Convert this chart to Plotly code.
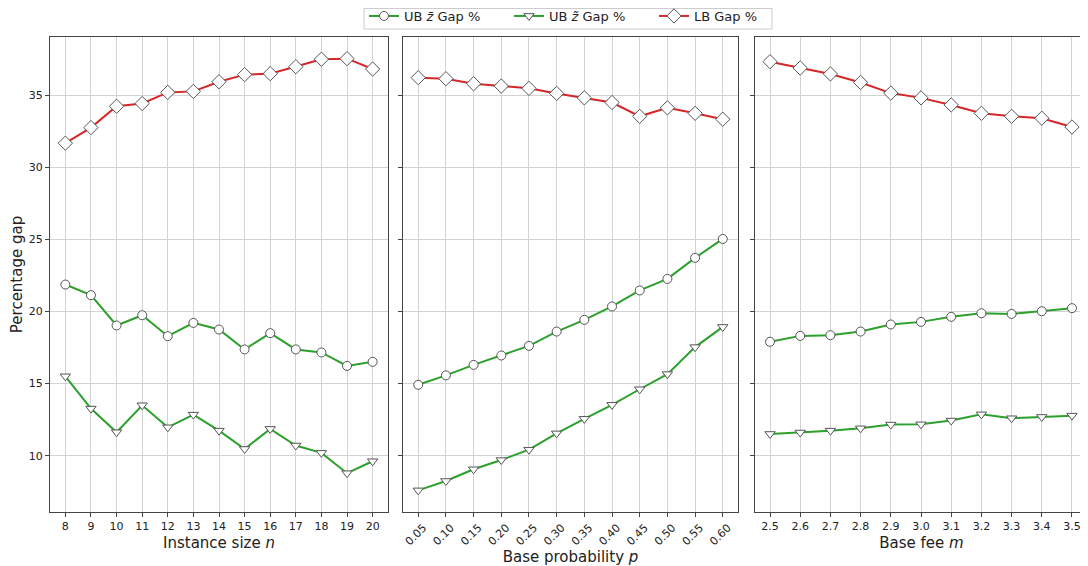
import plotly.graph_objects as go

# ---- data ----
n_vals = [8, 9, 10, 11, 12, 13, 14, 15, 16, 17, 18, 19, 20]
n_ub_bar = [21.87, 21.13, 19.03, 19.74, 18.29, 19.21, 18.75, 17.37, 18.50, 17.37, 17.16, 16.23, 16.51]
n_ub_tilde = [15.51, 13.27, 11.63, 13.50, 11.97, 12.85, 11.74, 10.47, 11.86, 10.71, 10.20, 8.79, 9.62]
n_lb = [31.67, 32.75, 34.23, 34.42, 35.19, 35.26, 35.93, 36.42, 36.49, 36.97, 37.49, 37.53, 36.81]

p_vals = [0.05, 0.10, 0.15, 0.20, 0.25, 0.30, 0.35, 0.40, 0.45, 0.50, 0.55, 0.60]
p_ub_bar = [14.92, 15.57, 16.30, 16.95, 17.62, 18.61, 19.42, 20.35, 21.46, 22.26, 23.72, 25.03]
p_ub_tilde = [7.60, 8.25, 9.06, 9.70, 10.42, 11.55, 12.56, 13.53, 14.61, 15.66, 17.53, 18.93]
p_lb = [36.21, 36.14, 35.79, 35.63, 35.47, 35.12, 34.81, 34.49, 33.53, 34.12, 33.74, 33.33]

m_vals = [2.5, 2.6, 2.7, 2.8, 2.9, 3.0, 3.1, 3.2, 3.3, 3.4, 3.5]
m_ub_bar = [17.90, 18.31, 18.36, 18.61, 19.10, 19.28, 19.63, 19.88, 19.83, 20.02, 20.23]
m_ub_tilde = [11.51, 11.61, 11.74, 11.90, 12.16, 12.18, 12.44, 12.87, 12.60, 12.69, 12.78]
m_lb = [37.32, 36.88, 36.47, 35.88, 35.14, 34.81, 34.32, 33.74, 33.53, 33.40, 32.79]

y_ticks = [10, 15, 20, 25, 30, 35]
series_names = ["UB <i>z̄</i> Gap %", "UB <i>z̃</i> Gap %", "LB Gap %"]
x_titles = ["Instance size <i>n</i>", "Base probability <i>p</i>", "Base fee <i>m</i>"]

GREEN = "#2ca02c"
RED = "#d62728"
EDGE = "#555555"
FONT = "DejaVu Sans"

panels = [
    (n_vals, n_ub_bar, n_ub_tilde, n_lb),
    (p_vals, p_ub_bar, p_ub_tilde, p_lb),
    (m_vals, m_ub_bar, m_ub_tilde, m_lb),
]

fig = go.Figure()
styles = [
    (GREEN, "circle", 9),
    (GREEN, "triangle-down", 9),
    (RED, "diamond", 11),
]
for i, (xv, a, b, c) in enumerate(panels):
    xa = "x" if i == 0 else f"x{i+1}"
    ya = "y" if i == 0 else f"y{i+1}"
    for j, ys in enumerate([a, b, c]):
        col, sym, sz = styles[j]
        fig.add_trace(go.Scatter(
            x=xv, y=ys, mode="lines+markers", name=series_names[j],
            showlegend=(i == 0), legendgroup=str(j),
            line=dict(color=col, width=2),
            marker=dict(symbol=sym, size=sz, color="white",
                        line=dict(color=EDGE, width=1)),
            xaxis=xa, yaxis=ya,
        ))

# page body has an 8px margin, so the figure is sized/positioned accordingly
W, H = 1080, 558
xdoms = [(42 / W, 380 / W), (395 / W, 730 / W), (747 / W, 1.0)]
ydom = (1 - 504 / H, 1 - 29 / H)
xranges = [[7.4, 20.6], [0.0225, 0.6275], [2.4503, 3.553]]
xfmts = ["d", ".2f", ".1f"]
yr = [6.1, 39.03]

axis_common = dict(
    showline=True, linecolor="#444444", linewidth=1, mirror=True,
    showgrid=True, gridcolor="#d3d3d3", gridwidth=1,
    ticks="outside", ticklen=4, tickcolor="#444444",
    tickfont=dict(family=FONT, size=11, color="#222222"),
    zeroline=False, automargin=False,
)

title_font = dict(family=FONT, size=15, color="#222222")

layout = dict(
    width=W, height=H,
    margin=dict(l=0, r=0, t=0, b=0, autoexpand=False),
    plot_bgcolor="white", paper_bgcolor="white",
    font=dict(family=FONT, color="#222222"),
    legend=dict(
        orientation="h", x=356 / W, xanchor="left", y=1 + 7 / H, yanchor="top",
        borderwidth=0, bgcolor="rgba(0,0,0,0)",
        font=dict(family=FONT, size=13, color="#222222"),
        entrywidth=100,
    ),
    shapes=[dict(
        type="rect", xref="paper", yref="paper",
        x0=356 / W, x1=764 / W, y0=1 - 21 / H, y1=1 - 0.5 / H,
        line=dict(color="#cccccc", width=1), fillcolor="white", layer="above",
    )],
)

for i in range(3):
    xk = "xaxis" if i == 0 else f"xaxis{i+1}"
    yk = "yaxis" if i == 0 else f"yaxis{i+1}"
    xv = panels[i][0]
    xdict = dict(
        axis_common, domain=list(xdoms[i]), range=xranges[i],
        tickmode="array", tickvals=xv,
        ticktext=[format(v, xfmts[i]) for v in xv],
        tickangle=(-45 if i == 1 else 0),
        anchor="y" if i == 0 else f"y{i+1}",
        title=dict(text=x_titles[i], font=title_font, standoff=(5 if i != 1 else 0)),
    )
    if i == 1:
        xdict["ticklabelshift"] = 5
    layout[xk] = xdict
    ydict = dict(
        axis_common, domain=list(ydom), range=yr,
        tickmode="array", tickvals=y_ticks,
        anchor="x" if i == 0 else f"x{i+1}",
        showticklabels=(i == 0),
    )
    if i == 2:
        ydict["mirror"] = False
    if i == 0:
        ydict["title"] = dict(text="Percentage gap", font=title_font, standoff=4)
    layout[yk] = ydict

fig.update_layout(**layout)
fig.write_html("out.html")
